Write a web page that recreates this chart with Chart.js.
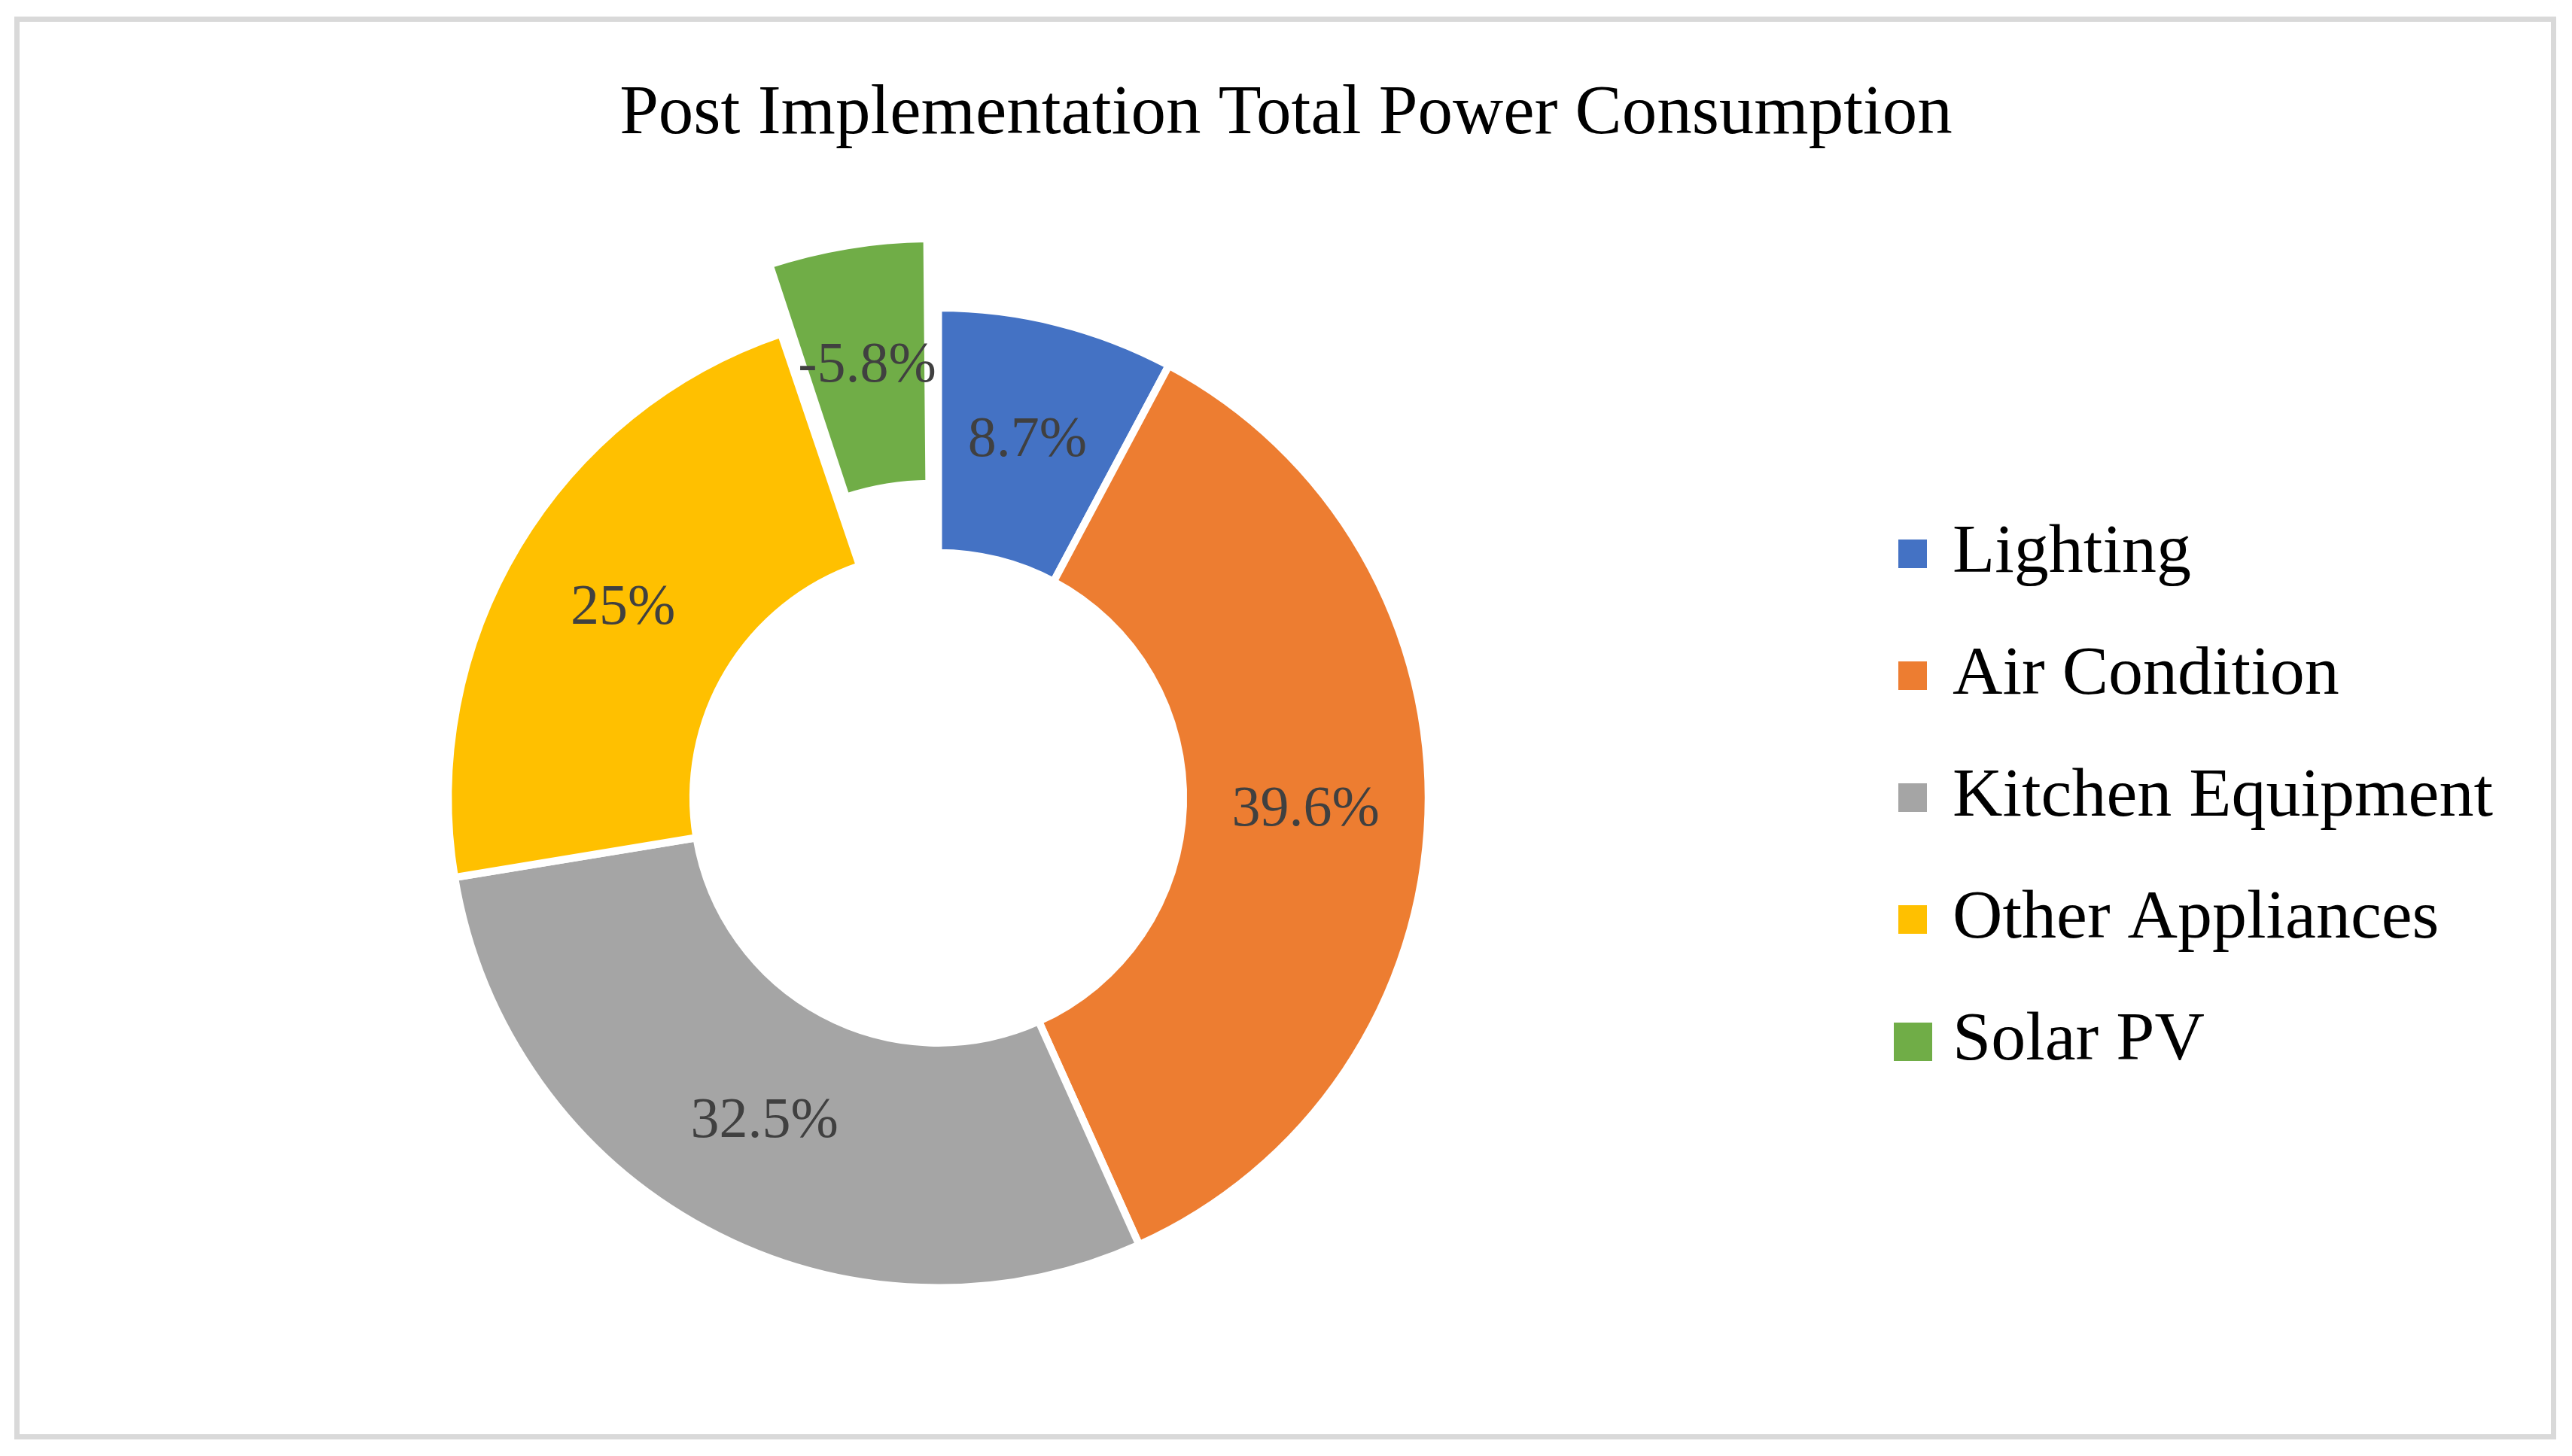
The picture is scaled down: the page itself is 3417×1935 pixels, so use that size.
<!DOCTYPE html>
<html>
<head>
<meta charset="utf-8">
<title>Post Implementation Total Power Consumption</title>
<script src="https://cdn.jsdelivr.net/npm/chart.js@4.4.1/dist/chart.umd.min.js"></script>
<style>
    body { margin: 0; background: #fff; overflow: hidden; }
    #wrap { position: relative; width: 3417px; height: 1935px; }
    #frame {
        position: absolute; left: 19px; top: 22px; width: 3377px; height: 1891px;
        box-sizing: border-box; border: 7px solid #d9d9d9; pointer-events: none;
    }
</style>
</head>
<body>
<div id="wrap">
    <canvas id="powerChart" width="3417" height="1935"></canvas>
    <div id="frame"></div>
</div>
<script>
// POST IMPLEMENTATION - POWER CONSUMPTION SHARES

const categories = [
    'Lighting',
    'Air Condition',
    'Kitchen Equipment',
    'Other Appliances',
    'Solar PV',
];

// percent of total, solar is a negative contribution
const shares = [8.7, 39.6, 32.5, 25, -5.8];

const colors = ['#4472C4', '#ED7D31', '#A5A5A5', '#FFC000', '#70AD47'];

// only the solar slice is pulled out
const explode = [0, 0, 0, 0, 221];

Chart.defaults.font.family = '"Liberation Serif", "Times New Roman", serif';

// labels in the middle of each slice (follows the pulled out slice too)
const sliceLabels = {
    id: 'sliceLabels',
    afterDatasetsDraw(chart) {
        const ctx = chart.ctx;
        const meta = chart.getDatasetMeta(0);
        ctx.save();
        ctx.font = '76px "Liberation Serif"';
        ctx.fillStyle = '#404040';
        ctx.textAlign = 'center';
        ctx.textBaseline = 'middle';
        meta.data.forEach((arc, i) => {
            const mid = (arc.startAngle + arc.endAngle) / 2;
            const push = (arc.options.offset || 0) / 4;
            const r = (arc.innerRadius + arc.outerRadius) / 2 +
                push * (2 - Math.sin(Math.min(Math.PI, arc.circumference)));
            ctx.fillText(shares[i] + '%', arc.x + Math.cos(mid) * r, arc.y + Math.sin(mid) * r);
        });
        ctx.restore();
    }
};

// title centred on the whole picture, not only on the pie + legend area
const centerTitle = {
    id: 'centerTitle',
    afterLayout(chart) {
        if (chart.titleBlock) {
            chart.titleBlock.left = 0;
            chart.titleBlock.right = chart.width;
        }
    }
};

const data = {
    labels: categories,
    datasets: [{
        data: shares.map(v => Math.abs(v)),
        backgroundColor: colors,
        borderColor: '#ffffff',
        borderWidth: 10,
        offset: explode,
        hoverOffset: 0,
    }]
};

const config = {
    type: 'doughnut',
    data: data,
    options: {
        responsive: false,
        animation: false,
        devicePixelRatio: 1,
        cutout: '50%',
        layout: {
            padding: { top: 0, bottom: 108, left: 29, right: 95 }
        },
        plugins: {
            title: {
                display: true,
                text: 'Post Implementation Total Power Consumption',
                color: '#000000',
                font: { size: 93, weight: 'normal' },
                padding: { top: 97, bottom: 85 }
            },
            legend: {
                position: 'right',
                fullSize: false,
                labels: {
                    color: '#000000',
                    font: { size: 92 },
                    usePointStyle: true,
                    boxWidth: 14,
                    padding: 70,
                    generateLabels(chart) {
                        const items = Chart.overrides.doughnut.plugins.legend.labels.generateLabels(chart);
                        return items.map((item, i) => {
                            const size = i === items.length - 1 ? 51 : 38;
                            const swatch = document.createElement('canvas');
                            swatch.width = size;
                            swatch.height = size;
                            const g = swatch.getContext('2d');
                            g.fillStyle = colors[i];
                            g.fillRect(0, 0, size, size);
                            item.pointStyle = swatch;
                            item.lineWidth = 0;
                            return item;
                        });
                    }
                }
            },
            tooltip: { enabled: false }
        }
    },
    plugins: [sliceLabels, centerTitle]
};

const powerChart = new Chart(
    document.getElementById('powerChart'),
    config
);

// FIN
</script>
</body>
</html>
